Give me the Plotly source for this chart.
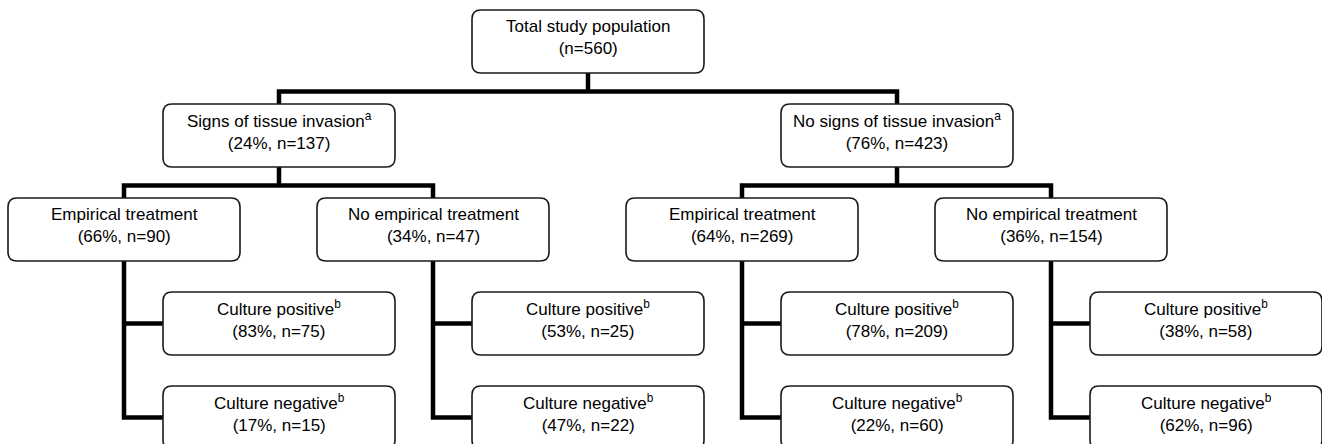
import plotly.graph_objects as go

# ---------------- data ----------------
top_label = "Total study population"
top_n = 560

invasion_labels = ["Signs of tissue invasion", "No signs of tissue invasion"]
invasion_pct = [24, 76]
invasion_n = [137, 423]

treatment_labels = ["Empirical treatment", "No empirical treatment",
                    "Empirical treatment", "No empirical treatment"]
treatment_pct = [66, 34, 64, 36]
treatment_n = [90, 47, 269, 154]

culture_pos_label = "Culture positive"
culture_pos_pct = [83, 53, 78, 38]
culture_pos_n = [75, 25, 209, 58]

culture_neg_label = "Culture negative"
culture_neg_pct = [17, 47, 22, 62]
culture_neg_n = [15, 22, 60, 96]

# ---------------- layout geometry ----------------
W, H = 1322, 444
BW, BH = 232, 63          # box size
STEP = 309                # column pitch
ROW_TOP = [10, 104, 198, 292, 386]
CULT_X0 = 163
TREAT_X0 = 8
R = 9
FONT = dict(family="Liberation Sans, Arial, sans-serif", size=17, color="black")
LINE_W = 4.5
BOX_LINE = dict(color="#1a1a1a", width=1.6)

shapes = []
annotations = []


def rbox(x0, y0):
    x1, y1 = x0 + BW, y0 + BH
    p = (f"M {x0+R},{y0} L {x1-R},{y0} Q {x1},{y0} {x1},{y0+R} "
         f"L {x1},{y1-R} Q {x1},{y1} {x1-R},{y1} L {x0+R},{y1} "
         f"Q {x0},{y1} {x0},{y1-R} L {x0},{y0+R} Q {x0},{y0} {x0+R},{y0} Z")
    return dict(type="path", path=p, xref="x", yref="y",
                fillcolor="white", line=BOX_LINE, layer="above")


def conn(pts):
    p = "M " + " L ".join(f"{x},{y}" for x, y in pts)
    return dict(type="path", path=p, xref="x", yref="y",
                fillcolor="rgba(0,0,0,0)",
                line=dict(color="black", width=LINE_W), layer="above")


def label(x0, y0, line1, line2, sup=None):
    t = line1 + (f"<sup>{sup}</sup>" if sup else "") + "<br>" + line2
    annotations.append(dict(x=x0 + BW / 2, y=y0 + 27, xref="x", yref="y",
                            text=t, showarrow=False, font=FONT,
                            xanchor="center", yanchor="middle", align="center"))


boxes = []

# top
top_x0 = CULT_X0 + STEP
boxes.append(rbox(top_x0, ROW_TOP[0]))
label(top_x0, ROW_TOP[0], top_label, f"(n={top_n})")
top_cx = top_x0 + BW / 2

# invasion level
inv_x0 = [CULT_X0, CULT_X0 + 2 * STEP]
inv_cx = [x + BW / 2 for x in inv_x0]
mid1 = (ROW_TOP[0] + BH + ROW_TOP[1]) / 2 + 3
shapes.append(conn([(top_cx, ROW_TOP[0] + BH), (top_cx, mid1)]))
shapes.append(conn([(inv_cx[0], ROW_TOP[1]), (inv_cx[0], mid1),
                    (inv_cx[1], mid1), (inv_cx[1], ROW_TOP[1])]))
for i in range(2):
    boxes.append(rbox(inv_x0[i], ROW_TOP[1]))
    label(inv_x0[i], ROW_TOP[1], invasion_labels[i],
          f"({invasion_pct[i]}%, n={invasion_n[i]})", sup="a")

# treatment level
tr_x0 = [TREAT_X0 + k * STEP for k in range(4)]
tr_cx = [x + BW / 2 for x in tr_x0]
mid2 = (ROW_TOP[1] + BH + ROW_TOP[2]) / 2 + 3
for i in range(2):
    shapes.append(conn([(inv_cx[i], ROW_TOP[1] + BH), (inv_cx[i], mid2)]))
    a, b = tr_cx[2 * i], tr_cx[2 * i + 1]
    shapes.append(conn([(a, ROW_TOP[2]), (a, mid2), (b, mid2), (b, ROW_TOP[2])]))
for k in range(4):
    boxes.append(rbox(tr_x0[k], ROW_TOP[2]))
    label(tr_x0[k], ROW_TOP[2], treatment_labels[k],
          f"({treatment_pct[k]}%, n={treatment_n[k]})")

# culture level
cu_x0 = [CULT_X0 + k * STEP for k in range(4)]
for k in range(4):
    ypos = ROW_TOP[3] + BH / 2
    yneg = ROW_TOP[4] + BH / 2
    shapes.append(conn([(tr_cx[k], ROW_TOP[2] + BH), (tr_cx[k], yneg), (cu_x0[k], yneg)]))
    shapes.append(conn([(tr_cx[k], ypos), (cu_x0[k], ypos)]))
    boxes.append(rbox(cu_x0[k], ROW_TOP[3]))
    label(cu_x0[k], ROW_TOP[3], culture_pos_label,
          f"({culture_pos_pct[k]}%, n={culture_pos_n[k]})", sup="b")
    boxes.append(rbox(cu_x0[k], ROW_TOP[4]))
    label(cu_x0[k], ROW_TOP[4], culture_neg_label,
          f"({culture_neg_pct[k]}%, n={culture_neg_n[k]})", sup="b")

fig = go.Figure()
fig.add_trace(go.Scatter(x=[0, W], y=[0, H], mode="markers",
                         marker=dict(opacity=0), hoverinfo="skip", showlegend=False))
fig.update_layout(
    width=W, height=H,
    margin=dict(l=0, r=0, t=0, b=0),
    paper_bgcolor="white", plot_bgcolor="white",
    xaxis=dict(range=[0, W], visible=False, fixedrange=True),
    yaxis=dict(range=[H, 0], visible=False, fixedrange=True),
    shapes=shapes + boxes,
    annotations=annotations,
    showlegend=False,
)
fig.write_html(
    "out.html",
    config={"displayModeBar": False},
    post_script="document.body.style.margin='0';document.body.style.overflow='hidden';",
)
